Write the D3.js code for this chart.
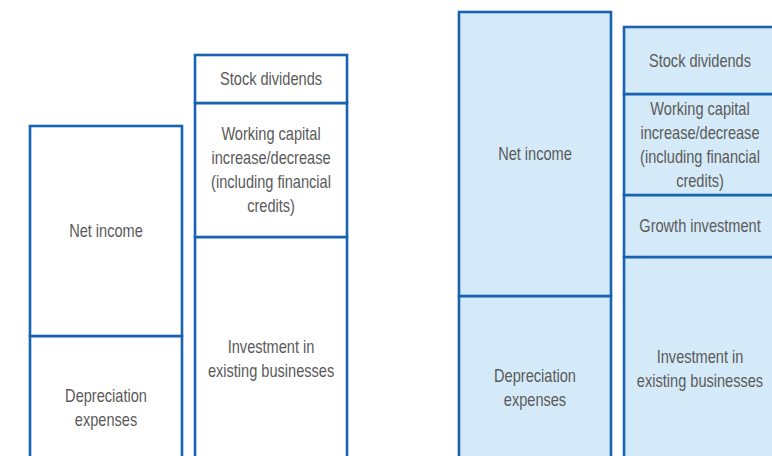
<!DOCTYPE html>
<html><head><meta charset="utf-8">
<script src="https://cdn.jsdelivr.net/npm/d3@7"></script>
<style>html,body{margin:0;padding:0;background:#fff;overflow:hidden}</style>
</head><body>
<svg id="chart" width="772" height="456"></svg>
<script>
// groups and their bars (bottom-to-top segments)
const groups = ["Before", "After"];
const bars = ["Sources", "Uses"];
const segLabels = {
  "Before|Sources": ["Depreciation\nexpenses", "Net income"],
  "Before|Uses": ["Investment in\nexisting businesses", "Working capital\nincrease/decrease\n(including financial\ncredits)", "Stock dividends"],
  "After|Sources": ["Depreciation\nexpenses", "Net income"],
  "After|Uses": ["Investment in\nexisting businesses", "Growth investment", "Working capital\nincrease/decrease\n(including financial\ncredits)", "Stock dividends"]
};
const segValues = {
  "Before|Sources": [144, 210],
  "Before|Uses": [243, 134, 48],
  "After|Sources": [184, 284],
  "After|Uses": [223, 62, 101, 67]
};
const groupFill = {"Before": "#ffffff", "After": "#d5eaf8"};

const svg = d3.select("#chart");
const x0 = d3.scaleBand().domain(groups).range([30, 776]).paddingInner(0.261).paddingOuter(0);
const x1 = d3.scaleBand().domain(bars).range([0, x0.bandwidth()]).paddingInner(0.079).paddingOuter(0);
const y = d3.scaleLinear().domain([0, 480]).range([480, 0]);

const segs = [];
groups.forEach(g => bars.forEach(b => {
  const key = g + "|" + b;
  let acc = 0;
  segValues[key].forEach((v, i) => {
    segs.push({g, b, y0: acc, y1: acc + v, label: segLabels[key][i]});
    acc += v;
  });
}));

const gSeg = svg.selectAll("g.seg").data(segs).join("g").attr("class", "seg");
gSeg.append("rect")
  .attr("x", d => x0(d.g) + x1(d.b))
  .attr("width", x1.bandwidth())
  .attr("y", d => y(d.y1))
  .attr("height", d => y(d.y0) - y(d.y1))
  .attr("fill", d => groupFill[d.g])
  .attr("stroke", "#1762b2")
  .attr("stroke-width", 2.6);

const lh = 24;
gSeg.append("text")
  .attr("text-anchor", "middle")
  .attr("font-family", "'Liberation Sans',Arial,sans-serif")
  .attr("font-size", 18)
  .attr("fill", "#5a5a5a")
  .each(function(d) {
    const lines = d.label.split("\n");
    const cx = x0(d.g) + x1(d.b) + x1.bandwidth() / 2;
    const cy = (y(d.y0) + y(d.y1)) / 2;
    const t = d3.select(this).attr("transform", `translate(${cx},0) scale(0.81,1)`);
    lines.forEach((ln, i) => {
      t.append("tspan").attr("x", 0)
        .attr("y", cy + (i - (lines.length - 1) / 2) * lh)
        .attr("dy", "0.35em").text(ln);
    });
  });
</script>
</body></html>
